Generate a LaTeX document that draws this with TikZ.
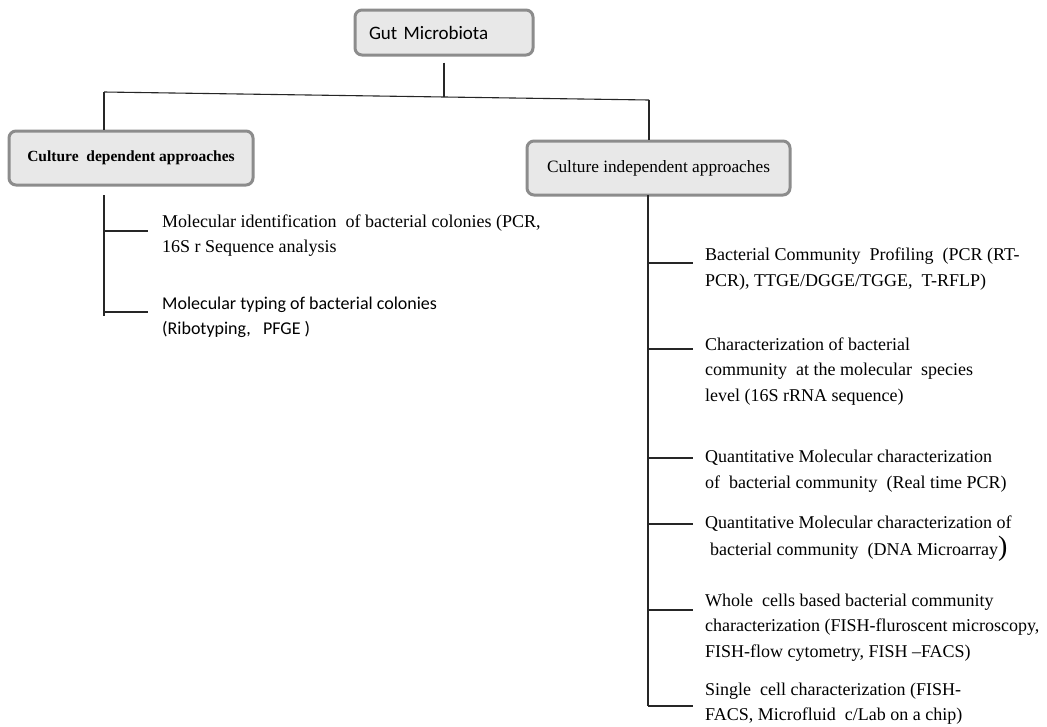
\documentclass[tikz,border=0pt]{standalone}
\usepackage{fontspec}
\setmainfont{Liberation Serif}
\newfontfamily\calibri{Carlito}
\usepackage{tikz}
\definecolor{boxfill}{HTML}{E8E8E8}
\definecolor{boxline}{HTML}{8C8C8C}
\tikzstyle{headbox} = [draw=boxline, line width=3pt, fill=boxfill, rounded corners=7pt, inner sep=0pt]
\tikzstyle{item} = [anchor=west, align=left, inner sep=0pt, font=\fontsize{18}{25.5}\selectfont]
\tikzstyle{link} = [draw=black!85, line width=1.1pt]

\begin{document}
\begin{tikzpicture}[x=1pt,y=-1pt]
\useasboundingbox (0,0) rectangle (1047,726);
\fill[white] (0,0) rectangle (1047,726);

% heading boxes
\node[headbox, minimum width=178pt, minimum height=45pt, text width=150pt, align=left, font=\calibri\fontsize{19}{22}\selectfont] (gut) at (444,32.5) {Gut Microbiota};
\node[headbox, minimum width=244pt, minimum height=54pt, font=\bfseries\fontsize{15.5}{18}\selectfont] (cdep) at (131,158) {Culture~ dependent approaches};
\node[headbox, minimum width=263pt, minimum height=54pt, font=\fontsize{17.3}{20}\selectfont] (cind) at (658.5,168) {Culture independent approaches};

% culture dependent items
\node[item] (l1) at (162,235.5) {Molecular identification~ of bacterial colonies (PCR,\\16S r Sequence analysis};
\node[item, font=\calibri\fontsize{18}{25}\selectfont] (l2) at (162,317.5) {Molecular typing of bacterial colonies\\(Ribotyping,~~ PFGE )};

% culture independent items
\node[item] (r1) at (705,269) {Bacterial Community~ Profiling~ (PCR (RT-\\PCR), TTGE/DGGE/TGGE,~ T-RFLP)};
\node[item] (r2) at (705,371.5) {Characterization of bacterial\\community~ at the molecular~ species\\level (16S rRNA sequence)};
\node[item] (r3) at (705,471) {Quantitative Molecular characterization\\of~ bacterial community~ (Real time PCR)};
\node[item] (r4) at (705,538.5) {Quantitative Molecular characterization of\\[2pt]\hspace*{5pt}bacterial community~ (DNA Microarray{\fontsize{28}{28}\selectfont )}};
\node[item] (r5) at (705,627.5) {Whole~ cells based bacterial community\\characterization (FISH-fluroscent microscopy,\\FISH-flow cytometry, FISH --FACS)};
\node[item] (r6) at (705,703.5) {Single~ cell characterization (FISH-\\FACS, Microfluid~ c/Lab on a chip)};

% top split
\coordinate (hl) at (104,92);
\coordinate (hr) at (649,100);
\coordinate (hm) at (445,97);
\draw[link, shorten <=6pt] (gut.south) -- (gut.south |- hm);
\draw[link] (hl) -- (hr);
\draw[link] (hl) -- (hl |- cdep.north);
\draw[link] (hr) -- (hr |- cind.north);

% left tree
\coordinate (ltop) at (104,195);
\coordinate (lbot) at (104,316);
\draw[link] (ltop) -- (lbot);
\foreach \n/\y in {1/231,2/312}{
  \coordinate (lb\n) at (104,\y);
  \draw[link, shorten >=14pt] (lb\n) -- (l\n.west |- lb\n);
}

% right tree
\coordinate (rtop) at (648,195);
\coordinate (rbot) at (648,706);
\draw[link] (rtop) -- (rbot);
\foreach \n/\y in {1/263,2/349,3/458,4/524,5/610,6/706}{
  \coordinate (rb\n) at (648,\y);
  \draw[link, shorten >=12pt] (rb\n) -- (r\n.west |- rb\n);
}

\end{tikzpicture}
\end{document}
